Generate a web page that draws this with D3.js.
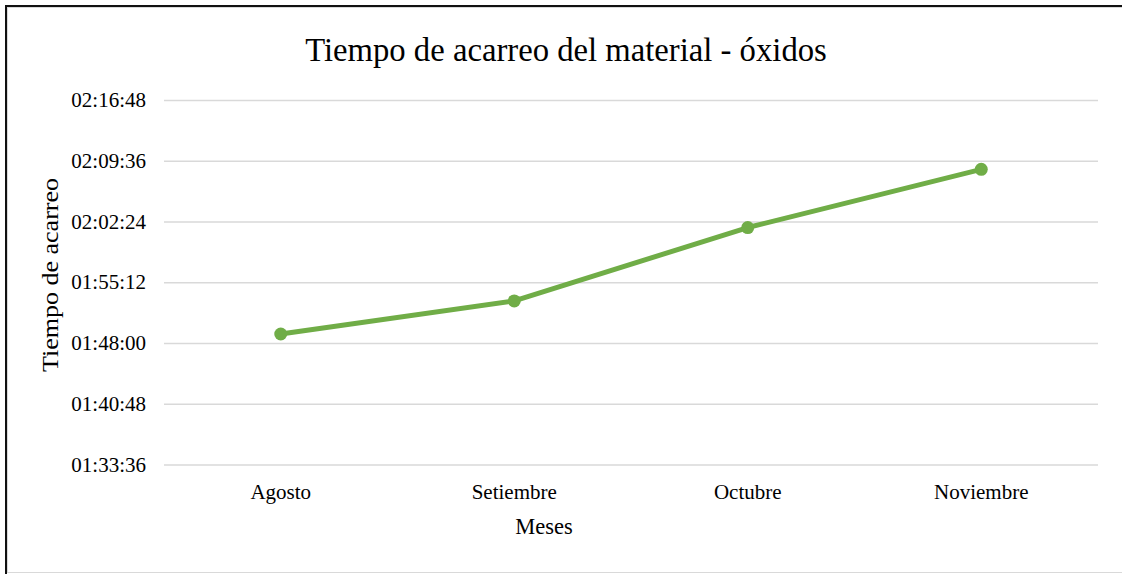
<!DOCTYPE html>
<html>
<head>
<meta charset="utf-8">
<script src="https://cdn.jsdelivr.net/npm/d3@7"></script>
<style>
    body { margin: 0; background: #fff; }
    svg { display: block; font-family: "Liberation Serif", "Times New Roman", serif; }
</style>
</head>
<body>
<div id="plot-area"><svg></svg></div>
<script>
// data
const meses = ['Agosto', 'Setiembre', 'Octubre', 'Noviembre'];
const tiempos = ['01:49:04', '01:52:59', '02:01:41', '02:08:35'];
const yTicks = ['01:33:36', '01:40:48', '01:48:00', '01:55:12', '02:02:24', '02:09:36', '02:16:48'];

const green = '#70AD47';

// hh:mm:ss -> seconds
function toSec(s) {
    const p = s.split(':').map(Number);
    return p[0] * 3600 + p[1] * 60 + p[2];
}
function pad(n) { return (n < 10 ? '0' : '') + n; }
function toHms(v) {
    return pad(Math.floor(v / 3600)) + ':' + pad(Math.floor(v % 3600 / 60)) + ':' + pad(v % 60);
}

const W = 1122, H = 574;
let margin = {top: 100, right: 24, bottom: 109.5, left: 164},
    width = W - margin.left - margin.right,
    height = H - margin.top - margin.bottom;

let svg = d3.select('#plot-area').select('svg')
    .attr('width', W)
    .attr('height', H);

// frame
svg.append('rect').attr('x', 7.5).attr('y', 7.5).attr('width', W).attr('height', 565)
    .style('fill', 'none').style('stroke', '#d9d9d9').style('stroke-width', 1);
svg.append('path').attr('d', 'M6,' + H + 'V6H' + W)
    .style('fill', 'none').style('stroke', '#111').style('stroke-width', 2);

let x = d3.scaleBand().domain(meses).range([0, width]);
let y = d3.scaleLinear()
    .domain([toSec(yTicks[0]), toSec(yTicks[yTicks.length - 1])])
    .range([height, 0]);

let g = svg.append('g')
    .attr('transform', 'translate(' + margin.left + ',' + margin.top + ')');

// gridlines
g.append('g')
    .attr('class', 'grid')
    .call(d3.axisLeft(y).tickValues(yTicks.map(toSec)).tickSize(-width).tickFormat(''))
    .call(s => s.select('.domain').remove())
    .call(s => s.selectAll('line').style('stroke', '#d9d9d9').style('stroke-width', 1.5));

// y axis labels
g.append('g')
    .attr('class', 'yaxis')
    .call(d3.axisLeft(y).tickValues(yTicks.map(toSec)).tickSize(0).tickPadding(18).tickFormat(toHms))
    .call(s => s.select('.domain').remove())
    .call(s => s.selectAll('text')
        .style('font-family', '"Liberation Serif", serif')
        .style('font-size', '21px')
        .style('fill', '#000'));

// x axis labels
g.append('g')
    .attr('class', 'xaxis')
    .attr('transform', 'translate(0,' + height + ')')
    .call(d3.axisBottom(x).tickSize(0).tickPadding(20))
    .call(s => s.select('.domain').remove())
    .call(s => s.selectAll('text')
        .style('font-family', '"Liberation Serif", serif')
        .style('font-size', '21px')
        .style('fill', '#000'));

// line
const valueline = d3.line()
    .x(function (d, i) { return x(meses[i]) + x.bandwidth() / 2; })
    .y(function (d) { return y(toSec(d)); });

g.append('path')
    .datum(tiempos)
    .style('fill', 'none')
    .style('stroke', green)
    .style('stroke-width', 5)
    .style('stroke-linejoin', 'round')
    .attr('d', valueline);

g.selectAll('.dot')
    .data(tiempos)
    .enter().append('circle')
    .attr('class', 'dot')
    .attr('cx', function (d, i) { return x(meses[i]) + x.bandwidth() / 2; })
    .attr('cy', function (d) { return y(toSec(d)); })
    .attr('r', 6.5)
    .style('fill', green);

// titles
svg.append('text')
    .attr('x', 566)
    .attr('y', 61)
    .attr('text-anchor', 'middle')
    .style('font-size', '32.7px')
    .text('Tiempo de acarreo del material - óxidos');

svg.append('text')
    .attr('x', 544)
    .attr('y', 534)
    .attr('text-anchor', 'middle')
    .style('font-size', '22.5px')
    .text('Meses');

svg.append('text')
    .attr('transform', 'translate(58,275) rotate(-90)')
    .attr('text-anchor', 'middle')
    .attr('textLength', 194)
    .attr('lengthAdjust', 'spacingAndGlyphs')
    .style('font-size', '23px')
    .text('Tiempo de acarreo');
</script>
</body>
</html>
